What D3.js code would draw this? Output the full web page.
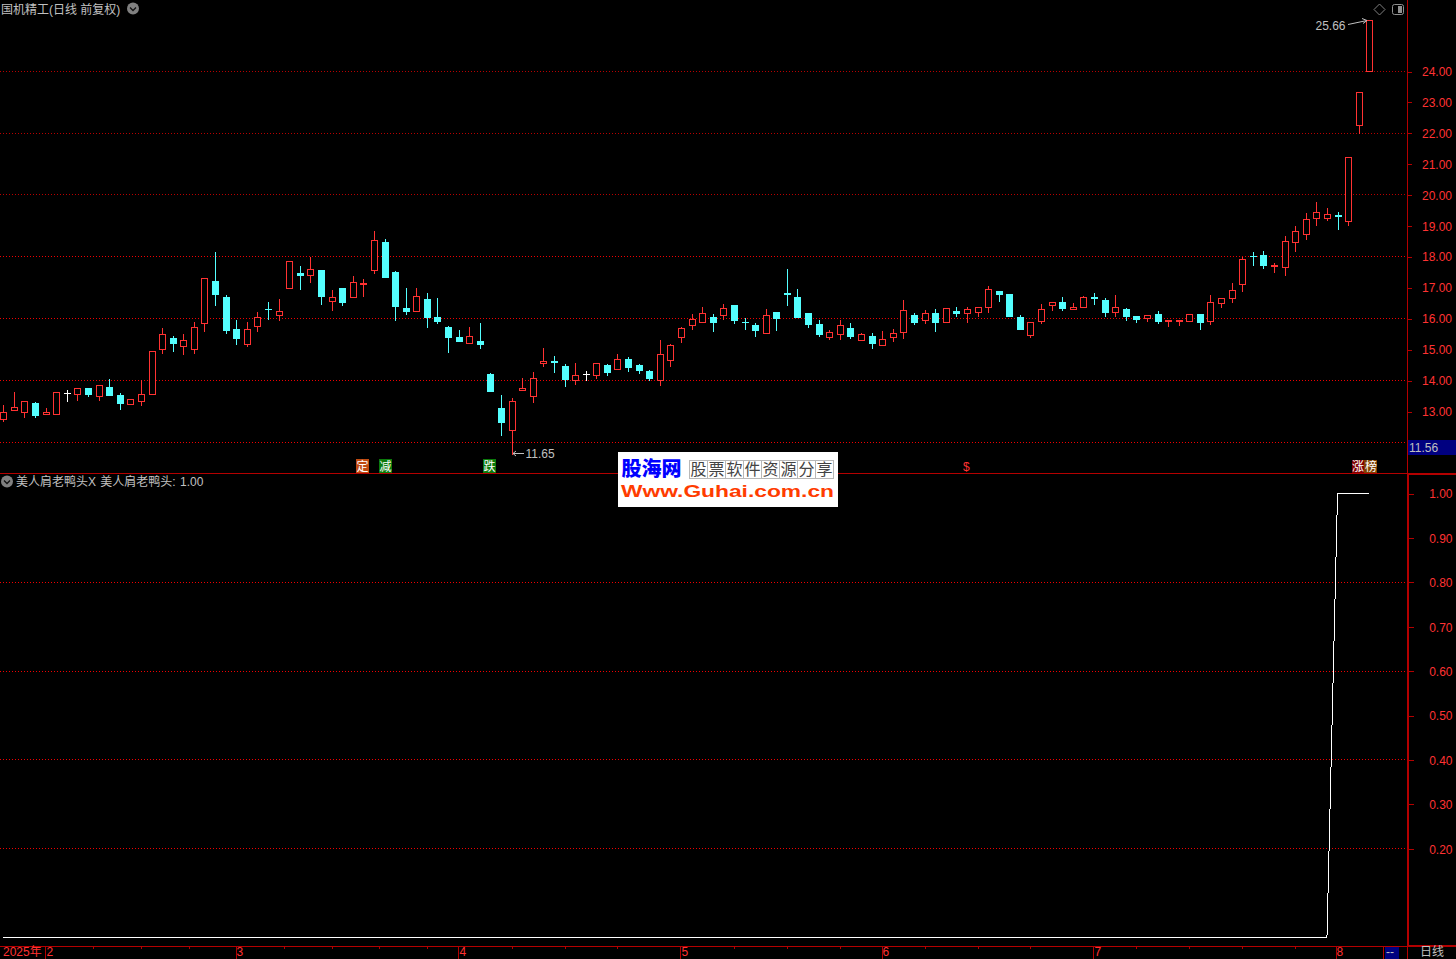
<!DOCTYPE html>
<html><head><meta charset="utf-8">
<script src="https://cdn.jsdelivr.net/npm/d3@7/dist/d3.min.js"></script>
<style>
html,body{margin:0;padding:0;background:#000;overflow:hidden}
svg{display:block}
text{font-family:"Liberation Sans","Noto Sans CJK SC",sans-serif;font-size:12px}
</style></head><body><svg id="c" width="1456" height="959"></svg>
<script>
const opens=[12.75,13.02,12.96,13.27,12.89,12.89,13.57,13.54,13.75,13.47,
13.78,13.53,13.22,13.31,13.54,14.99,15.37,15.09,14.99,15.83,
17.20,16.69,15.66,15.17,15.73,16.30,16.11,16.96,17.46,17.38,
17.56,16.56,16.98,16.67,17.09,17.54,18.46,17.49,16.33,16.22,
16.62,16.04,15.72,15.40,15.18,15.27,14.20,13.11,12.38,13.67,
13.47,14.56,14.61,14.46,13.99,14.18,14.15,14.48,14.34,14.69,
14.49,14.30,14.00,14.66,15.38,15.76,15.86,16.04,16.09,16.43,
15.88,15.78,15.53,16.20,16.81,16.69,16.17,15.82,15.40,15.47,
15.69,15.28,15.43,15.12,15.38,15.54,16.11,15.92,16.17,15.86,
16.24,16.15,16.18,16.34,16.88,16.78,16.04,15.46,15.91,16.41,
16.53,16.28,16.34,16.68,16.59,16.18,16.30,16.08,15.99,16.14,
15.89,15.89,15.89,16.14,15.89,16.47,16.63,17.09,18.01,18.04,
17.67,17.64,18.45,18.71,19.23,19.23,19.32,19.13,22.25,24.00];
const closes=[12.97,13.13,13.32,12.88,12.97,13.61,13.57,13.74,13.56,13.84,
13.53,13.27,13.39,13.55,14.94,15.48,15.20,15.29,15.71,17.29,
16.78,15.62,15.37,15.65,16.03,16.28,16.23,17.84,17.40,17.58,
16.72,16.68,16.53,17.16,17.14,18.52,17.33,16.40,16.24,16.71,
16.04,15.91,15.40,15.27,15.42,15.17,13.66,12.66,13.32,13.74,
14.06,14.61,14.59,14.04,14.16,14.18,14.55,14.27,14.68,14.43,
14.33,14.08,14.84,15.13,15.68,15.97,16.16,15.88,16.32,15.95,
15.87,15.62,16.10,16.01,16.79,16.04,15.82,15.49,15.55,15.77,
15.43,15.48,15.20,15.32,15.52,16.26,15.88,16.16,15.88,16.32,
16.17,16.29,16.35,16.94,16.78,16.08,15.66,15.87,16.29,16.52,
16.33,16.35,16.68,16.66,16.20,16.35,16.08,15.98,16.10,15.91,
15.92,15.95,16.13,15.88,16.52,16.65,16.90,17.90,18.00,17.70,
17.70,18.49,18.81,19.20,19.43,19.36,19.29,21.21,23.32,25.66];
const highs=[13.24,13.66,13.37,13.32,13.14,13.65,13.72,13.74,13.75,13.84,
14.08,13.62,13.43,14.04,14.94,15.72,15.46,15.53,15.91,17.29,
18.17,16.78,15.98,15.91,16.24,16.56,16.66,17.84,17.72,18.01,
17.59,16.95,16.98,17.40,17.30,18.85,18.59,17.56,17.01,17.01,
16.85,16.69,15.78,15.66,15.75,15.88,14.27,13.56,13.46,14.11,
14.30,15.08,14.82,14.56,14.59,14.33,14.55,14.56,14.88,14.78,
14.56,14.37,15.33,15.20,15.75,16.17,16.40,16.17,16.49,16.43,
16.04,15.88,16.33,16.20,17.62,16.98,16.20,15.98,15.66,15.98,
15.88,15.56,15.56,15.62,15.69,16.62,16.20,16.30,16.33,16.37,
16.40,16.40,16.35,17.08,16.88,16.82,16.14,15.87,16.49,16.56,
16.72,16.53,16.75,16.85,16.69,16.78,16.37,16.08,16.14,16.27,
15.98,15.98,16.13,16.14,16.78,16.65,17.17,18.00,18.15,18.20,
17.82,18.69,19.02,19.44,19.79,19.60,19.47,21.21,23.32,25.66];
const lows=[12.72,13.02,12.85,12.85,12.89,12.89,13.37,13.40,13.51,13.40,
13.53,13.11,13.22,13.24,13.54,14.91,14.98,14.88,14.91,15.62,
16.46,15.56,15.20,15.14,15.62,16.01,15.98,16.96,16.98,17.20,
16.49,16.30,16.46,16.67,16.75,17.49,17.33,15.98,16.17,16.22,
15.75,15.88,14.95,15.27,15.18,15.08,13.66,12.27,11.65,13.67,
13.33,14.49,14.30,13.85,13.91,14.04,14.11,14.20,14.34,14.33,
14.27,14.04,13.88,14.49,15.27,15.69,15.86,15.62,16.01,15.88,
15.69,15.46,15.53,15.66,16.46,16.04,15.75,15.46,15.37,15.37,
15.40,15.28,15.08,15.12,15.30,15.40,15.85,15.88,15.62,15.86,
16.11,15.91,16.11,16.24,16.59,16.08,15.66,15.43,15.88,16.30,
16.30,16.28,16.34,16.49,16.11,16.11,15.98,15.91,15.95,15.88,
15.78,15.82,15.89,15.69,15.85,16.40,16.56,16.91,17.75,17.66,
17.52,17.43,18.20,18.59,19.05,19.20,18.92,19.05,22.03,24.00];
const indicator=[0,0,0,0,0,0,0,0,0,0,0,0,0,0,0,0,0,0,0,0,0,0,0,0,0,0,0,0,0,0,
0,0,0,0,0,0,0,0,0,0,0,0,0,0,0,0,0,0,0,0,0,0,0,0,0,0,0,0,0,0,
0,0,0,0,0,0,0,0,0,0,0,0,0,0,0,0,0,0,0,0,0,0,0,0,0,0,0,0,0,0,
0,0,0,0,0,0,0,0,0,0,0,0,0,0,0,0,0,0,0,0,0,0,0,0,0,0,0,0,0,0,
0,0,0,0,0,0,1,1,1,1];
const priceTicks=[24,23,22,21,20,19,18,17,16,15,14,13];
const priceGridDim=[24,22,20];
const priceGrid=[18,16,14,12];
const indTicks=[1,0.9,0.8,0.7,0.6,0.5,0.4,0.3,0.2];
const indGrid=[0.8,0.6,0.4,0.2];
const monthLabels=["2","3","4","5","6","7","8"];
const monthIdx=[4,22,43,64,83,103,125.9];
const weekIdx=[8.5,13,17.5,26.5,31,35.5,40,48,53,58,69,74,79,87,92,97,107,112,117,122];
const title="国机精工(日线 前复权)";
const indLegend="美人肩老鸭头X 美人肩老鸭头: 1.00";
const flags=[{i:33.3,t:"定",bg:"#c04a10"},{i:35.5,t:"减",bg:"#0b7a0b"},{i:45.3,t:"跌",bg:"#0b7a0b"}];

const RED="#ff3232",CYAN="#54ffff",DARK="#b40000",GRID="#f00000",GRIDDIM="#b80000",GRAY="#c0c0c0";
const svg=d3.select("#c");
svg.append("rect").attr("width",1456).attr("height",959).attr("fill","#000");
const x=d3.scaleLinear().domain([0,129]).range([3.3,1369.3]);
const y=d3.scaleLinear().domain([12,18,24]).range([442.5,256.5,71.5]);
const yi=d3.scaleLinear().domain([0,1]).range([937.5,493.5]);
const py=v=>Math.round(v-0.5)+0.5;
const px=v=>Math.round(v)+0.5;

// grid
const gridG=svg.append("g").attr("shape-rendering","crispEdges");
const dotted=(vals,sc,col)=>gridG.append("g").selectAll("line").data(vals).join("line").attr("x1",0).attr("x2",1407)
 .attr("y1",d=>py(sc(d))).attr("y2",d=>py(sc(d))).attr("stroke",col).attr("stroke-dasharray","1 2");
dotted(priceGridDim,y,GRIDDIM);
dotted(priceGrid,y,GRID);
dotted(indGrid,yi,GRID);

// candles
const cG=svg.append("g").attr("shape-rendering","crispEdges");
const idx=d3.range(opens.length);
const colorOf=i=>closes[i]>opens[i]?RED:(closes[i]<opens[i]?CYAN:"#ffffff");
idx.forEach(i=>{
  const c=colorOf(i),cx=px(x(i));
  const top=py(y(Math.max(opens[i],closes[i]))),bot=py(y(Math.min(opens[i],closes[i])));
  const hi=py(y(highs[i])),lo=py(y(lows[i]));
  const g=cG.append("g");
  if(hi<top) g.append("line").attr("x1",cx).attr("x2",cx).attr("y1",hi).attr("y2",top).attr("stroke",c);
  if(lo>bot) g.append("line").attr("x1",cx).attr("x2",cx).attr("y1",bot).attr("y2",lo+1).attr("stroke",c);
  if(closes[i]>opens[i]){
    g.append("rect").attr("x",cx-3).attr("width",6).attr("y",top).attr("height",Math.max(bot-top,1))
     .attr("fill","#000").attr("stroke",c);
  } else {
    g.append("rect").attr("x",cx-3.5).attr("width",7).attr("y",top-0.5).attr("height",Math.max(bot-top,0)+1).attr("fill",c);
  }
});

// indicator line
svg.append("path").datum(indicator).attr("fill","none").attr("stroke","#fff").attr("stroke-width",1).attr("shape-rendering","crispEdges")
 .attr("d",d3.line().x((d,i)=>x(i)).y(d=>yi(d)));

// frame
const fr=svg.append("g").attr("shape-rendering","crispEdges");
const hl=(x1,x2,yy,w)=>fr.append("line").attr("x1",x1).attr("x2",x2).attr("y1",yy).attr("y2",yy).attr("stroke",DARK).attr("stroke-width",w||1);
const vl=(xx,y1,y2,w)=>fr.append("line").attr("x1",xx).attr("x2",xx).attr("y1",y1).attr("y2",y2).attr("stroke",DARK).attr("stroke-width",w||1);
hl(0,1407,473.5);
hl(1407,1456,474,2);
vl(1407.5,0,473);
vl(1408,474,947,2);
vl(1407.5,947,959);
hl(0,1407,946.5);
hl(1407,1456,946,2);

// price axis
const axP=d3.axisRight(y).tickValues(priceTicks).tickSize(4).tickPadding(11).tickFormat(d3.format(".2f"));
const gP=svg.append("g").attr("transform","translate(1407.5,0)").call(axP);
gP.select(".domain").remove();
gP.selectAll(".tick line").attr("stroke",DARK).attr("shape-rendering","crispEdges");
gP.selectAll(".tick text").attr("fill",RED).attr("text-anchor","end").attr("x",44.5).attr("y",0.6).style("font-size","12px");
// indicator axis
const axI=d3.axisRight(yi).tickValues(indTicks).tickSize(5).tickPadding(11).tickFormat(d3.format(".2f"));
const gI=svg.append("g").attr("transform","translate(1408.5,0)").call(axI);
gI.select(".domain").remove();
gI.selectAll(".tick line").attr("stroke",DARK).attr("shape-rendering","crispEdges");
gI.selectAll(".tick text").attr("fill",RED).attr("text-anchor","end").attr("x",44).attr("y",0.5).style("font-size","12px");

// current-price box
svg.append("rect").attr("x",1408).attr("y",440).attr("width",48).attr("height",15).attr("fill","#000080");
svg.append("text").attr("x",1409).attr("y",451.5).attr("fill",GRAY).text("11.56");

// month axis
const mG=svg.append("g");
svg.append("g").selectAll("line").data(monthIdx).join("line").attr("shape-rendering","crispEdges")
 .attr("x1",d=>Math.round(x(d)-0.6)+0.5).attr("x2",d=>Math.round(x(d)-0.6)+0.5).attr("y1",946).attr("y2",959).attr("stroke",DARK);
svg.append("g").selectAll("line").data(weekIdx).join("line").attr("shape-rendering","crispEdges")
 .attr("x1",d=>px(x(d))).attr("x2",d=>px(x(d))).attr("y1",947).attr("y2",949).attr("stroke",DARK);
mG.selectAll("text").data(monthLabels).join("text").attr("x",(d,i)=>Math.round(x(monthIdx[i]))+0.5).attr("y",956.3).attr("fill",RED).text(d=>d);
svg.append("text").attr("x",3).attr("y",956.3).attr("fill",RED).text("2025年");
svg.append("line").attr("x1",1383.5).attr("x2",1383.5).attr("y1",946).attr("y2",959).attr("stroke",DARK).attr("shape-rendering","crispEdges");
svg.append("rect").attr("x",1385).attr("y",947).attr("width",14).attr("height",12).attr("fill","#000080");
svg.append("text").attr("x",1386).attr("y",956).attr("fill",GRAY).text("--");
svg.append("text").attr("x",1420).attr("y",956.3).attr("fill",GRAY).text("日线");

// titles
svg.append("text").attr("x",1).attr("y",14).attr("fill",GRAY).text(title);
const dd=(cx,cy)=>{
 svg.append("circle").attr("cx",cx).attr("cy",cy).attr("r",6).attr("fill","#808080");
 svg.append("path").attr("d",`M${cx-3},${cy-1}L${cx},${cy+2}L${cx+3},${cy-1}`).attr("fill","none").attr("stroke","#111").attr("stroke-width",1.3);
};
dd(133,8.5); dd(7,481.5);
svg.append("text").attr("x",16).attr("y",486).attr("fill",GRAY).attr("word-spacing",1).text(indLegend);

// top-right icons
svg.append("path").attr("d","M1379.5,4L1385,9.5L1379.5,15L1374,9.5Z").attr("fill","none").attr("stroke","#808080");
svg.append("rect").attr("x",1392.5).attr("y",4.5).attr("width",11).attr("height",10).attr("rx",2).attr("fill","none").attr("stroke","#909090");
svg.append("rect").attr("x",1398).attr("y",6).attr("width",4).attr("height",7).attr("fill","#909090");

// hi / lo annotations
const a=svg.append("g");
a.append("text").attr("x",1315.5).attr("y",30).attr("fill",GRAY).text("25.66");
a.append("path").attr("d","M1348,24.5L1367,20.5M1362,18.5L1367,20.5L1363,23.5").attr("fill","none").attr("stroke",GRAY);
a.append("text").attr("x",525.5).attr("y",457.5).attr("fill",GRAY).text("11.65");
a.append("path").attr("d","M524,453.5H513M516,451L513,453.5L516,456").attr("fill","none").attr("stroke",GRAY);

// event flags
flags.forEach(f=>{
  const fx=x(f.i);
  svg.append("rect").attr("x",Math.round(fx)).attr("y",459).attr("width",13).attr("height",14).attr("fill",f.bg);
  svg.append("text").attr("x",Math.round(fx)+0.5).attr("y",470.5).attr("fill","#fff").text(f.t);
});
svg.append("text").attr("x",963).attr("y",471).attr("fill",RED).text("$");
svg.append("rect").attr("x",1352).attr("y",460).attr("width",12).attr("height",13).attr("fill","#800000");
svg.append("rect").attr("x",1364).attr("y",460).attr("width",13).attr("height",13).attr("fill","#804000");
svg.append("text").attr("x",1352).attr("y",471).attr("fill","#fff").text("涨");
svg.append("text").attr("x",1365).attr("y",471).attr("fill","#fff").text("榜");

// watermark
const w=svg.append("g");
w.append("rect").attr("x",618).attr("y",452).attr("width",220).attr("height",55).attr("fill","#fff");
w.append("text").attr("x",621.5).attr("y",476).attr("fill","#0000ff").style("font-size","20px").style("font-weight","900").style("font-family","'Noto Sans CJK SC'").text("股海网");
const cells="股票软件资源分享".split("");
cells.forEach((ch,i)=>{
  w.append("rect").attr("x",689.5+i*18).attr("y",460.5).attr("width",18).attr("height",18).attr("fill","#fff").attr("stroke","#b8b8b8").attr("shape-rendering","crispEdges");
  w.append("text").attr("x",690.5+i*18).attr("y",475).attr("fill","#444").style("font-size","16px").style("font-family","'Noto Sans CJK SC'").text(ch);
});
w.append("text").attr("x",621).attr("y",497).attr("fill","#ff3c00").style("font-size","17px").style("font-weight","700").attr("textLength",213).attr("lengthAdjust","spacingAndGlyphs").text("Www.Guhai.com.cn");
</script></body></html>
